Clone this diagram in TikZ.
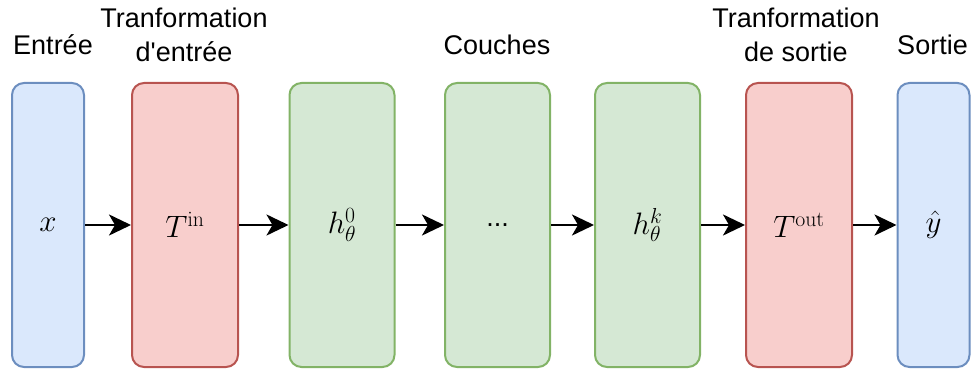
\RequirePackage{fix-cm}
\documentclass[tikz,border=0pt]{standalone}
\usepackage[no-math]{fontspec}
\setmainfont{Liberation Sans}
\usetikzlibrary{arrows.meta}

\definecolor{bluefill}{HTML}{DAE8FC}
\definecolor{bluedraw}{HTML}{6C8EBF}
\definecolor{redfill}{HTML}{F8CECC}
\definecolor{reddraw}{HTML}{B85450}
\definecolor{greenfill}{HTML}{D5E8D4}
\definecolor{greendraw}{HTML}{82B366}

\begin{document}
\begin{tikzpicture}[x=1pt,y=-1pt,
  block/.style={rectangle, rounded corners=12pt, line width=2pt,
    minimum height=284pt, inner sep=0pt,
    font=\fontsize{31}{36}\selectfont},
  iobox/.style={block, fill=bluefill, draw=bluedraw, minimum width=72pt},
  transbox/.style={block, fill=redfill, draw=reddraw, minimum width=106pt},
  layerbox/.style={block, fill=greenfill, draw=greendraw, minimum width=105pt},
  caption/.style={font=\fontsize{27}{34}\selectfont, align=center, inner sep=0pt, anchor=base},
  flow/.style={-{Stealth[length=22pt, width=21pt, inset=6pt]}, line width=2.5pt, black}
]
\useasboundingbox (0,0) rectangle (973,371);

% processing chain
\node[iobox]    (x)    at (48,225)    {$x$};
\node[transbox] (tin)  at (185,225)   {$T^{\mathrm{in}}$};
\node[layerbox] (h0)   at (342,225)   {$h_\theta^0$};
\node[layerbox] (dots) at (497.5,225) {\fontsize{27}{30}\selectfont ...};
\node[layerbox] (hk)   at (647.5,225) {$h_\theta^k$};
\node[transbox] (tout) at (799,225)   {$T^{\mathrm{out}}$};
\node[iobox]    (y)    at (933.5,225) {$\hat{y}$};

% connections
\draw[flow] (x)    -- (tin);
\draw[flow] (tin)  -- (h0);
\draw[flow] (h0)   -- (dots);
\draw[flow] (dots) -- (hk);
\draw[flow] (hk)   -- (tout);
\draw[flow] (tout) -- (y);

% headings (base anchor sits on the last line)
\node[caption] (lin)   at (53,55)    {Entrée};
\node[caption] (ltin)  at (184,62)   {Tranformation\\d\textquotesingle entrée};
\node[caption] (lmid)  at (497,55)   {Couches};
\node[caption] (ltout) at (796,62)   {Tranformation\\de sortie};
\node[caption] (lout)  at (932.5,55) {Sortie};
\end{tikzpicture}
\end{document}
